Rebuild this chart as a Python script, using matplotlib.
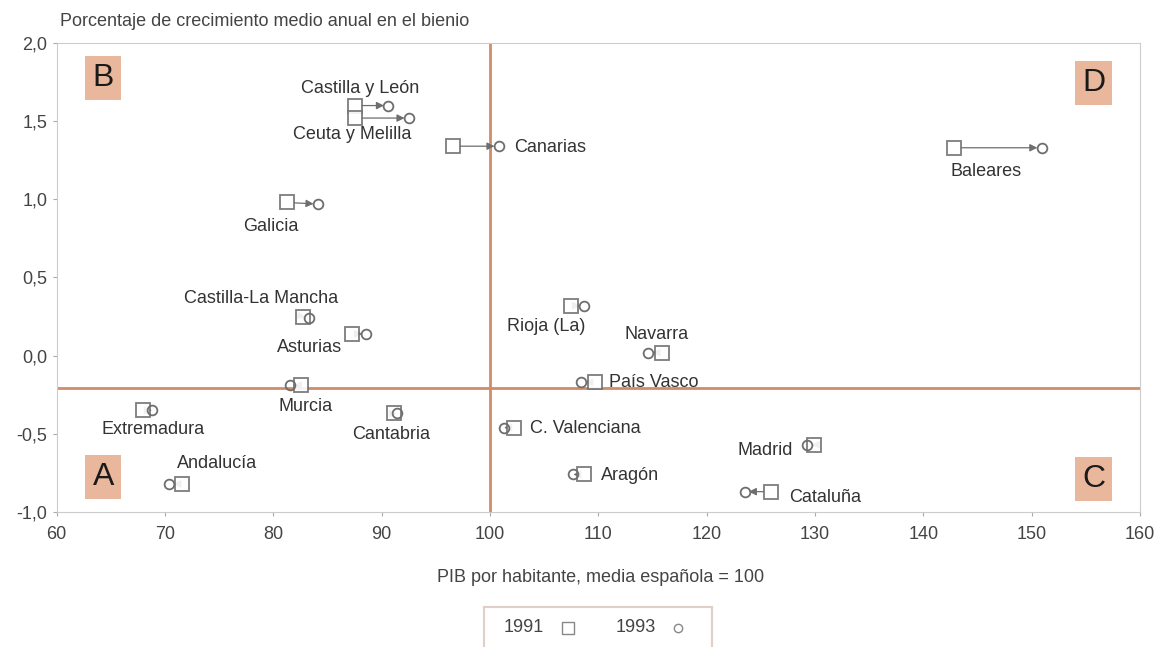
import matplotlib.pyplot as plt
from matplotlib.ticker import FuncFormatter

plt.rcParams['font.family'] = ['Liberation Sans', 'DejaVu Sans']

# PIB por habitante (media española = 100) y crecimiento medio anual
regiones = ["Castilla y León", "Ceuta y Melilla", "Canarias", "Baleares", "Galicia",
            "Castilla-La Mancha", "Asturias", "Murcia", "Extremadura", "Andalucía",
            "Cantabria", "Rioja (La)", "Navarra", "País Vasco", "C. Valenciana",
            "Aragón", "Madrid", "Cataluña"]
pib_1991 = [87.5, 87.5, 96.6, 142.8, 81.3, 82.7, 87.3, 82.6, 68.0, 71.6,
            91.1, 107.5, 115.9, 109.7, 102.2, 108.7, 129.9, 125.9]
pib_1993 = [90.6, 92.5, 100.8, 150.9, 84.1, 83.3, 88.6, 81.5, 68.8, 70.4,
            91.4, 108.7, 114.6, 108.4, 101.3, 107.7, 129.3, 123.5]
crec_1991 = [1.60, 1.52, 1.34, 1.33, 0.98, 0.25, 0.14, -0.19, -0.35, -0.82,
             -0.37, 0.32, 0.02, -0.17, -0.46, -0.76, -0.57, -0.87]
crec_1993 = [1.60, 1.52, 1.34, 1.33, 0.97, 0.24, 0.14, -0.19, -0.35, -0.82,
             -0.37, 0.32, 0.02, -0.17, -0.46, -0.76, -0.57, -0.87]

# label offsets in points and alignment (relative to the 1991 square)
lab_off = [(4, 12), (-2, -12), (44, -1), (23, -17), (-12, -17),
           (-30, 13), (-31, -10), (3, -15), (7, -14), (25, 15),
           (-2, -15), (-18, -15), (-4, 13), (10, 0), (12, -1),
           (12, -1), (-35, -4), (13, -4)]
lab_ha = ["center", "center", "left", "center", "center",
          "center", "center", "center", "center", "center",
          "center", "center", "center", "left", "left",
          "left", "center", "left"]

quadrants = ["A", "B", "C", "D"]
quad_x = [0.043, 0.043, 0.957, 0.957]
quad_y = [0.075, 0.925, 0.07, 0.915]

line_col = "#d08c6a"
mk_col = "#6e6e6e"
txt_col = "#333333"

fig = plt.figure(figsize=(11.54, 6.47), dpi=100)
ax = fig.add_axes([0.049, 0.2087, 0.939, 0.7248])

ax.axvline(100, color=line_col, lw=2, zorder=1)
ax.axhline(-0.21, color=line_col, lw=2, zorder=1)

for i, name in enumerate(regiones):
    x0, y0 = pib_1991[i], crec_1991[i]
    x1, y1 = pib_1993[i], crec_1993[i]
    ax.annotate("", xy=(x1, y1), xytext=(x0, y0),
                arrowprops=dict(arrowstyle="-|>", color=mk_col, lw=0.9,
                                mutation_scale=11, shrinkA=5, shrinkB=3),
                zorder=3)
    ax.plot(x0, y0, marker="s", ms=9.5, mfc="white", mec=mk_col, mew=1.3,
            ls="none", zorder=4, alpha=0.9)
    ax.plot(x1, y1, marker="o", ms=7, mfc="none", mec=mk_col, mew=1.3,
            ls="none", zorder=4)
    ax.annotate(name, (x0, y0), xytext=lab_off[i], textcoords="offset points",
                ha=lab_ha[i], va="center", fontsize=13, color=txt_col)

for q, qx, qy in zip(quadrants, quad_x, quad_y):
    ax.text(qx, qy, q, transform=ax.transAxes, ha="center", va="center",
            fontsize=23, color="#1a1a1a",
            bbox=dict(boxstyle="square,pad=0.22", fc="#e9b89c", ec="none"))

ax.set_xlim(60, 160)
ax.set_ylim(-1.0, 2.0)
ax.set_xticks(range(60, 161, 10))
ax.set_yticks([-1.0, -0.5, 0.0, 0.5, 1.0, 1.5, 2.0])
ax.yaxis.set_major_formatter(FuncFormatter(lambda v, p: f"{v:.1f}".replace(".", ",")))
ax.tick_params(colors="#aaaaaa", labelcolor="#444444", labelsize=13, length=3)
ax.tick_params(axis="x", pad=7)
for s in ax.spines.values():
    s.set_color("#cccccc")

fig.text(0.052, 0.966, "Porcentaje de crecimiento medio anual en el bienio",
         fontsize=13, color="#444444", ha="left", va="center")
fig.text(0.52, 0.108, "PIB por habitante, media española = 100",
         fontsize=13, color="#444444", ha="center", va="center")

# legend box
leg = fig.add_axes([0.419, -0.01, 0.198, 0.072])
leg.set_xlim(0, 1)
leg.set_ylim(0, 1)
leg.set_xticks([])
leg.set_yticks([])
for s in leg.spines.values():
    s.set_color("#e0cfc6")
    s.set_linewidth(1.5)
leg.text(0.09, 0.55, "1991", fontsize=13, color="#444444", va="center")
leg.plot(0.37, 0.55, marker="s", ms=9, mfc="white", mec="#888888", mew=1)
leg.text(0.58, 0.55, "1993", fontsize=13, color="#444444", va="center")
leg.plot(0.85, 0.55, marker="o", ms=6, mfc="white", mec="#888888", mew=1)

fig.savefig("out.png", dpi=100)
